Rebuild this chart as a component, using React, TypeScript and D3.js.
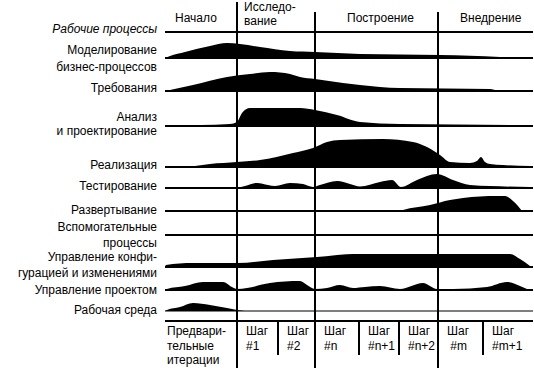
import React from "react";
import * as d3 from "d3";

// ---- data ----
// time axis: project time units (0 = start of Начало, 365 = end of Внедрение)
const phaseNames = [["Начало"], ["Исследо-", "вание"], ["Построение"], ["Внедрение"]];
const phaseBounds = [0, 72, 150, 273, 365];

const iterationNames = [
  ["Предвари-", "тельные", "итерации"],
  ["Шаг", "#1"],
  ["Шаг", "#2"],
  ["Шаг", "#n"],
  ["Шаг", "#n+1"],
  ["Шаг", "#n+2"],
  ["Шаг", " #m"],
  ["Шаг", "#m+1"],
];
const iterationBounds = [0, 72, 113, 150, 194, 234, 273, 318, 365];

const workflowLabels = [
  ["Рабочие процессы"],
  ["Моделирование", "бизнес-процессов"],
  ["Требования"],
  ["Анализ", "и проектирование"],
  ["Реализация"],
  ["Тестирование"],
  ["Развертывание"],
  ["Вспомогательные", "процессы"],
  ["Управление конфи-", "гурацией и изменениями"],
  ["Управление проектом"],
  ["Рабочая среда"],
];

// effort profiles: [time, effort]
const businessModeling: [number, number][] = [
  [0, 0], [5, 2], [20, 6], [45, 12], [62, 15], [75, 14], [95, 11], [125, 7], [150, 6], [195, 4], [275, 3], [335, 1], [340, 0],
];
const requirements: [number, number][] = [
  [0, 0], [5, 1], [28, 6], [62, 14], [85, 17], [105, 19], [125, 17], [135, 14], [150, 12], [178, 8], [195, 6], [215, 4], [235, 3], [325, 2], [333, 0],
];
const analysisDesign: [number, number][] = [
  [0, 0], [35, 1], [65, 2], [72, 4], [77, 13], [85, 18], [135, 18], [150, 16], [172, 11], [195, 4], [235, 2], [365, 1],
];
const implementation: [number, number][] = [
  [0, 0], [30, 1], [45, 3], [72, 5], [95, 7], [128, 14], [148, 19], [162, 25], [175, 27], [218, 28], [248, 25], [262, 20], [275, 12], [285, 5], [305, 4], [312, 6], [316, 10], [320, 5], [325, 3], [338, 2], [365, 1],
];
const testing: [number, number][] = [
  [0, 0], [72, 0.5], [80, 2], [92, 5], [103, 3], [110, 2], [125, 5], [138, 4], [148, 1], [155, 3], [172, 7], [185, 4], [195, 1.5], [215, 6], [227, 8], [236, 1], [252, 8], [272, 14], [288, 8], [305, 3], [325, 2], [365, 1],
];
const deployment: [number, number][] = [
  [0, 0], [235, 0], [238, 1], [265, 6], [285, 11], [298, 13], [332, 15], [340, 15], [348, 10], [353, 5], [357, 0],
];
const configMgmt: [number, number][] = [
  [0, 0], [1, 2], [28, 4], [72, 4], [108, 7], [152, 10], [188, 13], [345, 13], [355, 8], [365, 1],
];
const projectMgmt: [number, number][] = [
  [0, 0], [2, 1], [20, 4], [38, 8], [58, 8], [67, 3], [72, 1], [82, 2], [105, 7], [135, 9], [142, 5], [150, 1], [162, 2], [175, 5], [188, 2], [200, 3], [215, 4], [235, 1], [258, 7], [272, 1], [288, 1], [322, 3], [342, 8], [355, 4], [362, 1],
];
const environment: [number, number][] = [
  [0, 0], [2, 1], [15, 4], [28, 8], [45, 6], [62, 3], [72, 1], [80, 0],
];

const workflowProfiles: ([number, number][] | null)[] = [
  null, businessModeling, requirements, analysisDesign, implementation, testing, deployment,
  null, configMgmt, projectMgmt, environment,
];

// ---- layout ----
const W = 534;
const H = 368;
const rowBaselines = [32, 58, 91, 126, 167, 188, 211, 235, 267, 290, 311];
const labelBaselines = [[33], [54, 71], [92], [121, 135], [169], [190], [214], [231, 247], [261, 277], [294], [314]];
const headerOffsets = [10, 7, 32, 22];
const FONT = "'Liberation Sans', Arial, sans-serif";

export default function App() {
  const x = d3.scaleLinear().domain([0, 365]).range([165, 530]);
  const h = d3.scaleLinear().domain([0, 30]).range([0, 30]);
  const lineEnd = 533;
  const gridBottom = 321;

  return (
    <svg
      width={W}
      height={H}
      style={{ position: "absolute", left: 0, top: 0, background: "#fff" }}
      fontFamily={FONT}
      fontSize={12}
    >
      <rect width={W} height={H} fill="#fff" />

      {/* phase headers */}
      {phaseNames.map((lines, i) => {
        const lx = x(phaseBounds[i]) + headerOffsets[i];
        const start = lines.length > 1 ? 11 : 22;
        return (
          <text key={"ph" + i} fill="#000">
            {lines.map((l, j) => (
              <tspan key={j} x={lx} y={start + j * 14}>{l}</tspan>
            ))}
          </text>
        );
      })}

      {/* workflow labels */}
      {workflowLabels.map((lines, i) => (
        <text
          key={"wl" + i}
          textAnchor="end"
          fill="#000"
          fontStyle={i === 0 ? "italic" : "normal"}
        >
          {lines.map((l, j) => (
            <tspan key={j} x={157} y={labelBaselines[i][j]}>{l}</tspan>
          ))}
        </text>
      ))}

      {/* humps */}
      {workflowProfiles.map((prof, i) => {
        if (!prof) return null;
        const base = rowBaselines[i];
        const area = d3
          .area<[number, number]>()
          .x((d) => x(d[0]))
          .y0(base)
          .y1((d) => base - h(d[1]))
          .curve(d3.curveMonotoneX);
        return <path key={"a" + i} d={area(prof) || ""} fill="#000" />;
      })}

      {/* baselines */}
      {rowBaselines.map((y, i) => (
        <line
          key={"bl" + i}
          x1={x(0)}
          x2={lineEnd}
          y1={y}
          y2={y}
          stroke="#000"
          strokeWidth={i === rowBaselines.length - 1 ? 1.2 : 2}
        />
      ))}
      <line x1={x(0)} x2={lineEnd} y1={gridBottom} y2={gridBottom} stroke="#000" strokeWidth={2} />

      {/* phase lines */}
      {phaseBounds.slice(1, -1).map((b, i) => (
        <line
          key={"pl" + i}
          x1={x(b)}
          x2={x(b)}
          y1={i === 0 ? 2 : 12}
          y2={H}
          stroke="#000"
          strokeWidth={2}
        />
      ))}

      {/* iteration separators */}
      {iterationBounds.slice(1, -1).map((b, i) =>
        phaseBounds.includes(b) ? null : (
          <line key={"is" + i} x1={x(b)} x2={x(b)} y1={gridBottom} y2={355} stroke="#000" strokeWidth={2} />
        )
      )}

      {/* iteration labels */}
      {iterationNames.map((lines, i) => {
        const lx = x(iterationBounds[i]) + (i === 0 ? 2 : 9);
        return (
          <text key={"it" + i} fill="#000" style={{ whiteSpace: "pre" }}>
            {lines.map((l, j) => (
              <tspan key={j} x={lx} y={335 + j * 14.5}>{l}</tspan>
            ))}
          </text>
        );
      })}
    </svg>
  );
}
